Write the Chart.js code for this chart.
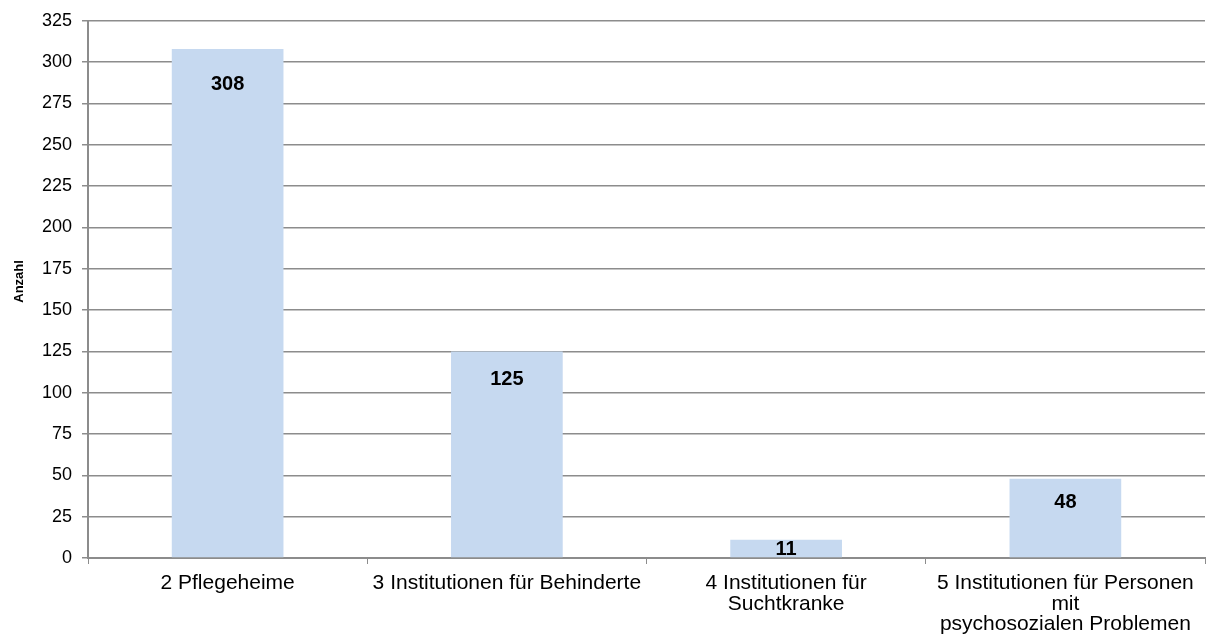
<!DOCTYPE html>
<html><head><meta charset="utf-8">
<script src="https://cdn.jsdelivr.net/npm/chart.js@4"></script>
<style>html,body{margin:0;padding:0;background:#fff}#wrap{width:1208px;height:642px}</style>
</head><body><div id="wrap"><canvas id="c" width="1208" height="642"></canvas></div>
<script>
const categories = [
  "2 Pflegeheime",
  "3 Institutionen für Behinderte",
  ["4 Institutionen für", "Suchtkranke"],
  ["5 Institutionen für Personen", "mit", "psychosozialen Problemen"]
];
const values = [308, 125, 11, 48];
const yTicks = [0,25,50,75,100,125,150,175,200,225,250,275,300,325];
const yTitle = "Anzahl";

const FONT = "'Liberation Sans', Arial, sans-serif";

const labelPlugin = {
  id: 'barLabels',
  afterDatasetsDraw(chart) {
    const ctx = chart.ctx;
    const meta = chart.getDatasetMeta(0);
    ctx.save();
    ctx.font = "bold 20px " + FONT;
    ctx.fillStyle = "#000";
    ctx.textAlign = "center";
    ctx.textBaseline = "middle";
    meta.data.forEach((bar, i) => {
      const h = bar.base - bar.y;
      const off = Math.min(h / 2, 15 + 0.86 * Math.sqrt(h));
      ctx.fillText(String(values[i]), bar.x, bar.y + off + 1);
    });
    ctx.restore();
  },
  afterDraw(chart) {
    const ctx = chart.ctx;
    const area = chart.chartArea;
    ctx.save();
    ctx.font = "bold 13px " + FONT;
    ctx.fillStyle = "#000";
    ctx.textAlign = "center";
    ctx.textBaseline = "middle";
    ctx.translate(19, (area.top + area.bottom) / 2 - 8);
    ctx.rotate(-Math.PI / 2);
    ctx.fillText(yTitle, 0, 0);
    ctx.restore();
  }
};

new Chart(document.getElementById('c'), {
  type: 'bar',
  data: {
    labels: categories,
    datasets: [{
      data: values,
      backgroundColor: '#c6d9f0',
      borderWidth: 0,
      categoryPercentage: 1.0,
      barPercentage: 0.4
    }]
  },
  options: {
    responsive: false,
    animation: false,
    devicePixelRatio: 1,
    layout: { padding: { left: 12, right: 3, top: 19, bottom: 0 } },
    plugins: { legend: { display: false }, tooltip: { enabled: false } },
    scales: {
      x: {
        grid: { display: true, drawOnChartArea: false, drawTicks: true, tickLength: 6, color: '#8c8c8c', offset: true },
        border: { color: '#8c8c8c', width: 2 },
        ticks: { color: '#000', font: { family: FONT, size: 21, lineHeight: 0.98 }, maxRotation: 0, autoSkip: false, padding: 9 },
        afterFit(s) { s.height = 84; }
      },
      y: {
        min: 0, max: 325,
        afterBuildTicks(s) { s.ticks = yTicks.map(v => ({ value: v })); },
        grid: { color: '#8c8c8c', lineWidth: 1.5, tickLength: 6 },
        border: { color: '#8c8c8c', width: 2 },
        ticks: { color: '#000', font: { family: FONT, size: 18 }, padding: 10 },
        title: { display: false },
        afterFit(s) { s.width = 76; }
      }
    }
  },
  plugins: [labelPlugin]
});
</script>
</body></html>
